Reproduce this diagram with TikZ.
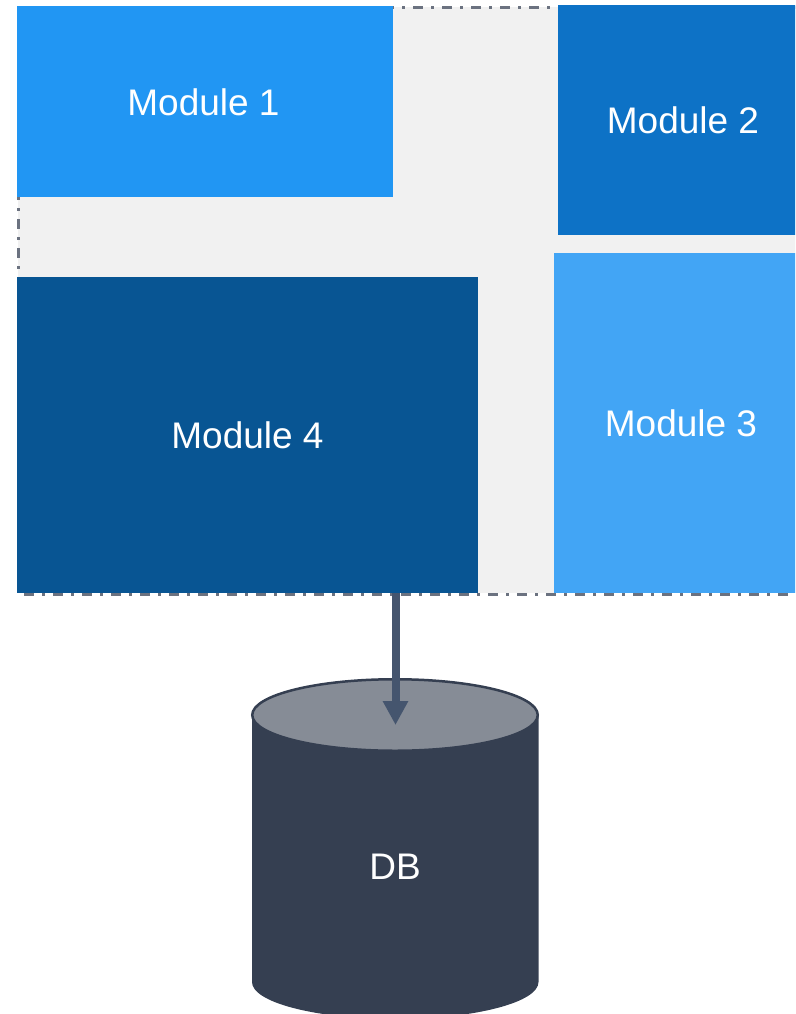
\documentclass[tikz,border=0pt]{standalone}
\usepackage{fontspec}
\setmainfont{Liberation Sans}
\usetikzlibrary{arrows.meta}
\definecolor{modA}{HTML}{2196F3}
\definecolor{modB}{HTML}{0D72C6}
\definecolor{modC}{HTML}{42A5F5}
\definecolor{modD}{HTML}{085593}
\definecolor{panelbg}{HTML}{F1F1F1}
\definecolor{panelline}{HTML}{6B7280}
\definecolor{dbbody}{HTML}{353F51}
\definecolor{dbtop}{HTML}{868C96}
\definecolor{link}{HTML}{45556E}
\tikzset{
  x=1pt,y=-1pt,
  labeltext/.style={text=white,font=\fontsize{37}{42}\selectfont},
  modbox/.style={labeltext,anchor=north west,inner sep=0pt,outer sep=0pt},
  flow/.style={draw=link,line width=8pt,-{Triangle[length=24pt,width=24pt]}},
  panelborder/.style={draw=panelline,line width=2.5pt}
}
\begin{document}
\begin{tikzpicture}
\useasboundingbox (0,0) rectangle (795,1014);
\clip (0,0) rectangle (795,1014);
% panel
\fill[panelbg] (18,7) rectangle (810,593.3);
\draw[panelborder,dash pattern=on 10pt off 8pt on 3pt off 8pt,dash phase=11.5pt] (18.7,594.5) -- (18.7,7);
\draw[panelborder,dash pattern=on 10pt off 8pt on 3pt off 8pt,dash phase=10.7pt] (18,7.3) -- (810,7.3);
% modules
\node[modbox,fill=modA,minimum width=376pt,minimum height=191pt] (m1) at (17,6) {};
\node[modbox,fill=modB,minimum width=251pt,minimum height=230pt] (m2) at (557.5,5) {};
\node[modbox,fill=modC,minimum width=254pt,minimum height=340.3pt] (m3) at (554,253) {};
\node[modbox,fill=modD,minimum width=461pt,minimum height=316.3pt] (m4) at (17,277) {};
\draw[panelborder,dash pattern=on 10pt off 8pt on 3pt off 8pt,dash phase=21.7pt] (17,594.7) -- (810,594.7);
\node[labeltext] at (203.5,102) {Module 1};
\node[labeltext] at (m2.center) {Module 2};
\node[labeltext] at (m3.center) {Module 3};
\node[labeltext] at (247.5,435) {Module 4};
% database
\fill[dbbody] (252,714) -- (252,982) arc[start angle=180,end angle=360,x radius=143.25,y radius=-37] -- (538.5,714) -- cycle;
\draw[dbbody,fill=dbtop,line width=2.5pt] (395,715) ellipse[x radius=142.75,y radius=35.75];
\node[labeltext] (db) at (395,867) {DB};
\coordinate (dbhit) at (395.5,725);
\draw[flow] (dbhit |- m4.south) -- (dbhit);
\end{tikzpicture}
\end{document}
